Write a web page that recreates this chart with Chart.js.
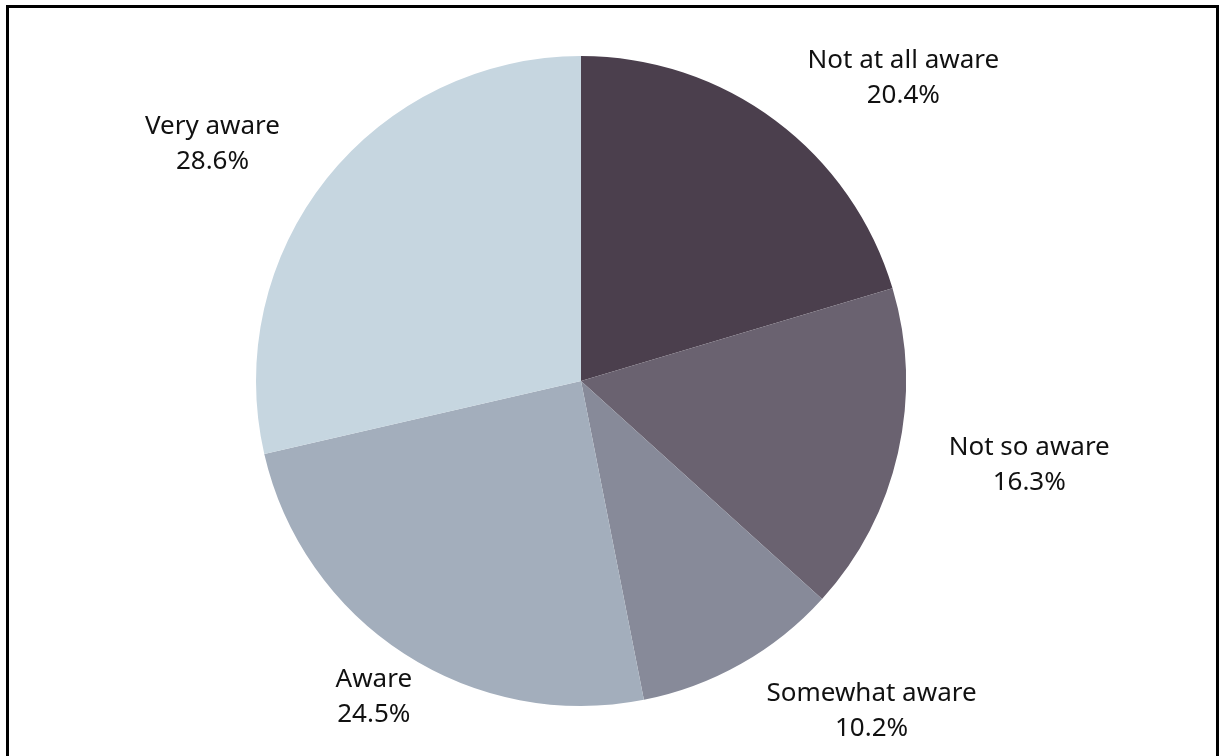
<!DOCTYPE html>
<html lang="en">
<head>
    <meta charset="UTF-8">
    <title>Awareness Pie Chart</title>
    <script src="https://cdn.jsdelivr.net/npm/chart.js"></script>
    <style>
        body, html {
            margin: 0;
            padding: 0;
            width: 1220px;
            height: 756px;
            overflow: hidden;
            background: #ffffff;
        }
        .frame {
            position: absolute;
            left: 6px;
            top: 5px;
            width: 1207px;
            height: 800px;
            border: 3px solid #000000;
        }
        .chart-container {
            position: absolute;
            left: 0;
            top: 0;
            width: 1220px;
            height: 756px;
        }
    </style>
</head>
<body>
    <div class="frame"></div>
    <div class="chart-container">
        <canvas id="awarenessChart"></canvas>
    </div>

    <script>
        // Data
        const categories = ['Not at all aware', 'Not so aware', 'Somewhat aware', 'Aware', 'Very aware'];
        const shares = [20.4, 16.3, 10.2, 24.5, 28.6];
        const shareLabels = ['20.4%', '16.3%', '10.2%', '24.5%', '28.6%'];

        const sliceColors = ['#4b3f4d', '#6a6270', '#878a99', '#a3aebc', '#c6d6e0'];

        // outside labels, placed along each slice's mid angle with a small shift
        const outsideLabels = {
            id: 'outsideLabels',
            afterDatasetsDraw(chart, args, opts) {
                const ctx = chart.ctx;
                const meta = chart.getDatasetMeta(0);
                ctx.save();
                ctx.font = opts.font;
                ctx.fillStyle = opts.color;
                ctx.textAlign = 'center';
                ctx.textBaseline = 'middle';
                meta.data.forEach((arc, i) => {
                    const p = arc.getProps(['x', 'y', 'startAngle', 'endAngle', 'outerRadius'], true);
                    const mid = (p.startAngle + p.endAngle) / 2 + (opts.angleShift[i] || 0) * Math.PI / 180;
                    const d = p.outerRadius + opts.distance[i];
                    const cx = p.x + Math.cos(mid) * d;
                    const cy = p.y + Math.sin(mid) * d;
                    ctx.fillText(categories[i], cx, cy - opts.lineGap / 2);
                    ctx.fillText(shareLabels[i], cx, cy + opts.lineGap / 2);
                });
                ctx.restore();
            }
        };

        const ctx = document.getElementById('awarenessChart').getContext('2d');
        const awarenessChart = new Chart(ctx, {
            type: 'pie',
            data: {
                labels: categories,
                datasets: [{
                    data: shares,
                    backgroundColor: sliceColors,
                    borderWidth: 0
                }]
            },
            options: {
                responsive: true,
                maintainAspectRatio: false,
                animation: false,
                layout: {
                    padding: { left: 0, right: 58, top: 56, bottom: 50 }
                },
                plugins: {
                    legend: { display: false },
                    tooltip: { enabled: false },
                    outsideLabels: {
                        font: '26px "Noto Sans"',
                        color: '#111111',
                        lineGap: 35,
                        angleShift: [10.1, -2.2, -11.8, 0.3, -5.8],
                        distance: [117, 131, 115, 53, 113]
                    }
                }
            },
            plugins: [outsideLabels]
        });
    </script>
</body>
</html>
